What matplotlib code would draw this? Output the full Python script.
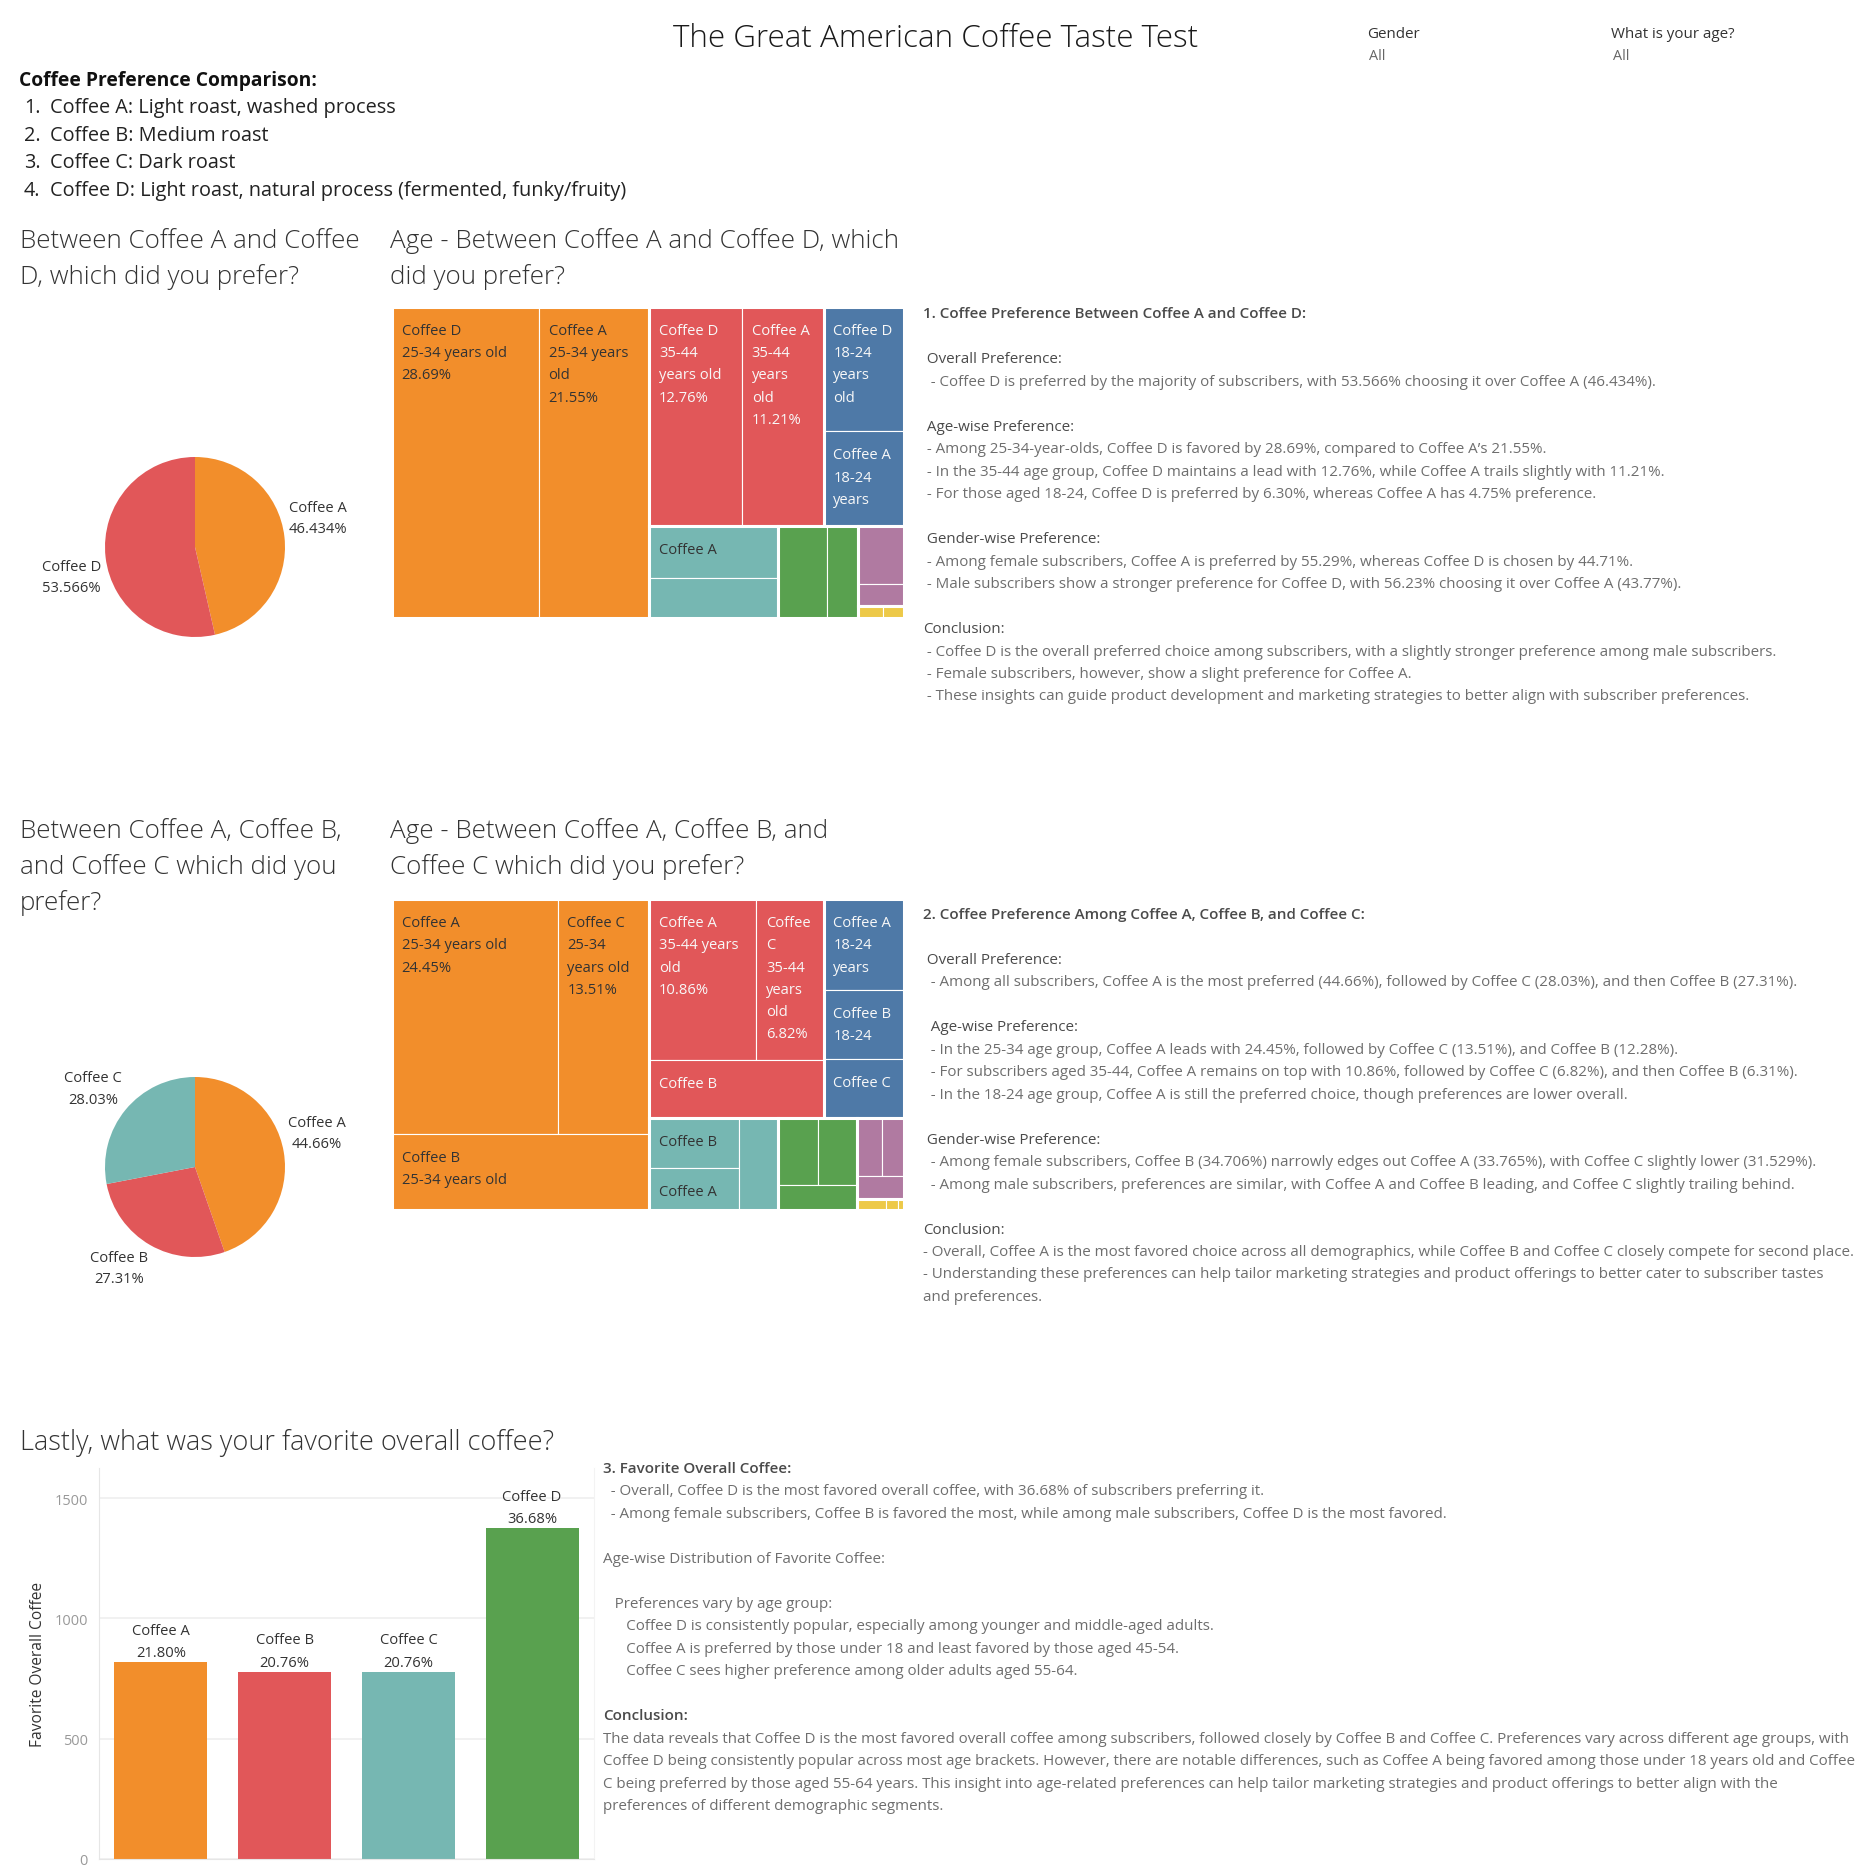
import numpy as np
import matplotlib
matplotlib.use('Agg')
import matplotlib.pyplot as plt
from matplotlib.patches import Rectangle
from matplotlib.font_manager import FontProperties

W, H, DPI = 1874, 1874, 100
FONT = ['Open Sans', 'DejaVu Sans']
TITLE_FONT = ['Open Sans', 'DejaVu Sans']
plt.rcParams['font.family'] = FONT

# ---------------- data ----------------
title = 'The Great American Coffee Taste Test'
coffee_desc = ['Coffee A: Light roast, washed process',
               'Coffee B: Medium roast',
               'Coffee C: Dark roast',
               'Coffee D: Light roast, natural process (fermented, funky/fruity)']

pie1_names = ['Coffee A', 'Coffee D']
pie1_pct = [46.434, 53.566]
pie2_names = ['Coffee A', 'Coffee B', 'Coffee C']
pie2_pct = [44.66, 27.31, 28.03]

# treemap 1: Coffee A vs Coffee D by age group (share of all answers, %)
tm1_coffee = ['Coffee D', 'Coffee A', 'Coffee D', 'Coffee A', 'Coffee D', 'Coffee A',
              'Coffee A', 'Coffee D', 'Coffee D', 'Coffee A', 'Coffee A', 'Coffee D',
              'Coffee A', 'Coffee D']
tm1_age = ['25-34 years old'] * 2 + ['35-44 years old'] * 2 + ['18-24 years old'] * 2 + \
          ['45-54 years old'] * 2 + ['55-64 years old'] * 2 + ['>65 years old'] * 2 + \
          ['<18 years old'] * 2
tm1_pct = [28.69, 21.55, 12.76, 11.21, 6.30, 4.75, 4.20, 3.25, 2.85, 1.75, 1.70, 0.65, 0.19, 0.15]

# treemap 2: Coffee A / B / C by age group
tm2_coffee = ['Coffee A', 'Coffee C', 'Coffee B', 'Coffee A', 'Coffee C', 'Coffee B',
              'Coffee A', 'Coffee B', 'Coffee C', 'Coffee B', 'Coffee A', 'Coffee C',
              'Coffee A', 'Coffee B', 'Coffee C', 'Coffee A', 'Coffee B', 'Coffee C',
              'Coffee A', 'Coffee B', 'Coffee C']
tm2_age = ['25-34 years old'] * 3 + ['35-44 years old'] * 3 + ['18-24 years old'] * 3 + \
          ['45-54 years old'] * 3 + ['55-64 years old'] * 3 + ['>65 years old'] * 3 + \
          ['<18 years old'] * 3
tm2_pct = [24.45, 13.51, 12.28, 10.86, 6.82, 6.31, 4.59, 3.48, 2.98, 2.82, 2.36, 2.27,
           1.68, 1.64, 1.25, 0.89, 0.81, 0.70, 0.185, 0.077, 0.038]

fav_names = ['Coffee A', 'Coffee B', 'Coffee C', 'Coffee D']
fav_count = [817, 778, 778, 1375]
fav_pct = [21.80, 20.76, 20.76, 36.68]

age_colors = {'18-24 years old': '#4E79A7', '25-34 years old': '#F28E2B',
              '35-44 years old': '#E15759', '45-54 years old': '#76B7B2',
              '55-64 years old': '#59A14F', '<18 years old': '#EDC948',
              '>65 years old': '#B07AA1'}
dark_text_ages = ['25-34 years old', '45-54 years old', '55-64 years old', '<18 years old']

# narrative text, (kind, line): h = heading, s = sub heading, t = body, '' = blank
notes1 = [('h', '1. Coffee Preference Between Coffee A and Coffee D:'),
          ('', ''),
          ('s', ' Overall Preference:'),
          ('t', '  - Coffee D is preferred by the majority of subscribers, with 53.566% choosing it over Coffee A (46.434%).'),
          ('', ''),
          ('s', ' Age-wise Preference:'),
          ('t', ' - Among 25-34-year-olds, Coffee D is favored by 28.69%, compared to Coffee A\u2019s 21.55%.'),
          ('t', ' - In the 35-44 age group, Coffee D maintains a lead with 12.76%, while Coffee A trails slightly with 11.21%.'),
          ('t', ' - For those aged 18-24, Coffee D is preferred by 6.30%, whereas Coffee A has 4.75% preference.'),
          ('', ''),
          ('s', ' Gender-wise Preference:'),
          ('t', ' - Among female subscribers, Coffee A is preferred by 55.29%, whereas Coffee D is chosen by 44.71%.'),
          ('t', ' - Male subscribers show a stronger preference for Coffee D, with 56.23% choosing it over Coffee A (43.77%).'),
          ('', ''),
          ('s', 'Conclusion:'),
          ('t', ' - Coffee D is the overall preferred choice among subscribers, with a slightly stronger preference among male subscribers.'),
          ('t', ' - Female subscribers, however, show a slight preference for Coffee A.'),
          ('t', ' - These insights can guide product development and marketing strategies to better align with subscriber preferences.')]

notes2 = [('h', '2. Coffee Preference Among Coffee A, Coffee B, and Coffee C:'),
          ('', ''),
          ('s', ' Overall Preference:'),
          ('t', '  - Among all subscribers, Coffee A is the most preferred (44.66%), followed by Coffee C (28.03%), and then Coffee B (27.31%).'),
          ('', ''),
          ('s', '  Age-wise Preference:'),
          ('t', '  - In the 25-34 age group, Coffee A leads with 24.45%, followed by Coffee C (13.51%), and Coffee B (12.28%).'),
          ('t', '  - For subscribers aged 35-44, Coffee A remains on top with 10.86%, followed by Coffee C (6.82%), and then Coffee B (6.31%).'),
          ('t', '  - In the 18-24 age group, Coffee A is still the preferred choice, though preferences are lower overall.'),
          ('', ''),
          ('s', ' Gender-wise Preference:'),
          ('t', '  - Among female subscribers, Coffee B (34.706%) narrowly edges out Coffee A (33.765%), with Coffee C slightly lower (31.529%).'),
          ('t', '  - Among male subscribers, preferences are similar, with Coffee A and Coffee B leading, and Coffee C slightly trailing behind.'),
          ('', ''),
          ('s', 'Conclusion:'),
          ('t', '- Overall, Coffee A is the most favored choice across all demographics, while Coffee B and Coffee C closely compete for second place.'),
          ('t', '- Understanding these preferences can help tailor marketing strategies and product offerings to better cater to subscriber tastes'),
          ('t', 'and preferences.')]

notes3 = [('h', '3. Favorite Overall Coffee:'),
          ('t', '  - Overall, Coffee D is the most favored overall coffee, with 36.68% of subscribers preferring it.'),
          ('t', '  - Among female subscribers, Coffee B is favored the most, while among male subscribers, Coffee D is the most favored.'),
          ('', ''),
          ('t', 'Age-wise Distribution of Favorite Coffee:'),
          ('', ''),
          ('t', '   Preferences vary by age group:'),
          ('t', '      Coffee D is consistently popular, especially among younger and middle-aged adults.'),
          ('t', '      Coffee A is preferred by those under 18 and least favored by those aged 45-54.'),
          ('t', '      Coffee C sees higher preference among older adults aged 55-64.'),
          ('', ''),
          ('h', 'Conclusion:'),
          ('t', 'The data reveals that Coffee D is the most favored overall coffee among subscribers, followed closely by Coffee B and Coffee C. Preferences vary across different age groups, with'),
          ('t', 'Coffee D being consistently popular across most age brackets. However, there are notable differences, such as Coffee A being favored among those under 18 years old and Coffee'),
          ('t', 'C being preferred by those aged 55-64 years. This insight into age-related preferences can help tailor marketing strategies and product offerings to better align with the'),
          ('t', 'preferences of different demographic segments.')]

# ---------------- helpers ----------------
fig = plt.figure(figsize=(W / DPI, H / DPI), dpi=DPI)
fig.patch.set_facecolor('white')
renderer = fig.canvas.get_renderer()


def px_axes(x0, y0, x1, y1):
    # axes from pixel box, y measured from the top
    return fig.add_axes([x0 / W, 1 - y1 / H, (x1 - x0) / W, (y1 - y0) / H])


def width_px(s, size, family=FONT, weight='normal'):
    prop = FontProperties(family=family, size=size, weight=weight)
    return renderer.get_text_width_height_descent(s, prop, ismath=False)[0]


def fit_size(s, target, family=FONT, weight='normal'):
    # font size that makes s about target pixels wide
    return 10 * target / width_px(s, 10, family, weight)


def line(x, yc, s, size, **kw):
    # place one text line by the vertical centre of its capitals
    base = yc + 0.36 * size * DPI / 72
    return fig.text(x / W, 1 - base / H, s, fontsize=size, va='baseline', **kw)


NOTE_SIZE = fit_size('- Coffee D is preferred by the majority of subscribers, with 53.566% '
                     'choosing it over Coffee A (46.434%).', 728)
LBL_SIZE = fit_size('Coffee D', 59)


def note_block(x, y, lines, pitch=22.47):
    styles = {'h': ('semibold', '#4a4a4a'), 's': ('normal', '#4a4a4a'), 't': ('normal', '#6e6e6e')}
    for i, (kind, s) in enumerate(lines):
        if kind:
            wgt, col = styles[kind]
            line(x, y + i * pitch, s, NOTE_SIZE, fontweight=wgt, color=col)


# ---------------- treemap ----------------
MAX_RATIO = 3.3
PAD_X, PAD_W, FIRST_BASE, PITCH, BOTTOM = 9.7, 20.4, 27.0, 22.3, 13.7


def worst(row, side, scale):
    thick = sum(row) * scale / side
    ratios = []
    for v in row:
        length = v * scale / thick
        ratios.append(max(length / thick, thick / length))
    return max(ratios)


def strip_layout(values, x, y, w, h):
    # squarified style layout: grow a strip while its cells stay near square
    scale = w * h / sum(values)
    out = []
    i = 0
    while i < len(values):
        side = min(w, h)
        row = [values[i]]
        j = i + 1
        while j < len(values):
            cand = row + [values[j]]
            if worst(cand, side, scale) > max(worst(row, side, scale), MAX_RATIO):
                break
            row = cand
            j += 1
        area = sum(row) * scale
        if w <= h:
            th = area / w
            cx = x
            for v in row:
                cw = v * scale / th
                out.append((cx, y, cw, th))
                cx += cw
            y += th
            h -= th
        else:
            th = area / h
            cy = y
            for v in row:
                ch = v * scale / th
                out.append((x, cy, th, ch))
                cy += ch
            x += th
            w -= th
        i = j
    return out


def cell_label(ax, x, y, w, h, fields, color):
    avail = w - PAD_W
    lines = []
    for f in fields:
        cur = ''
        for word in f.split(' '):
            if width_px(word, LBL_SIZE) > avail:
                return
            trial = word if not cur else cur + ' ' + word
            if width_px(trial, LBL_SIZE) <= avail:
                cur = trial
            else:
                lines.append(cur)
                cur = word
        lines.append(cur)
    if h < FIRST_BASE + BOTTOM:
        return
    n = int((h - FIRST_BASE - BOTTOM) // PITCH) + 1
    for k, s in enumerate(lines[:n]):
        ax.text(x + PAD_X, y + FIRST_BASE + k * PITCH, s, color=color,
                fontsize=LBL_SIZE, va='baseline', ha='left')


def draw_treemap(box, coffees, ages, pcts):
    x0, y0, x1, y1 = box
    w, h = x1 - x0, y1 - y0
    ax = px_axes(x0, y0, x1, y1)
    ax.set_xlim(0, w)
    ax.set_ylim(h, 0)
    ax.axis('off')
    groups = {}
    for c, a, p in zip(coffees, ages, pcts):
        groups.setdefault(a, []).append((p, c))
    order = sorted(groups, key=lambda a: -sum(p for p, _ in groups[a]))
    totals = [sum(p for p, _ in groups[a]) for a in order]
    for a, (gx, gy, gw, gh) in zip(order, strip_layout(totals, 0, 0, w, h)):
        leaves = sorted(groups[a], reverse=True)
        cells = strip_layout([p for p, _ in leaves], gx, gy, gw, gh)
        tc = '#333333' if a in dark_text_ages else '#f8f8f8'
        for (p, c), (x, y, cw, ch) in zip(leaves, cells):
            ax.add_patch(Rectangle((x, y), cw, ch, facecolor=age_colors[a],
                                   edgecolor='white', lw=0.8))
            cell_label(ax, x, y, cw, ch, [c, a, '%.2f%%' % p], tc)
        ax.add_patch(Rectangle((gx, gy), gw, gh, fill=False, edgecolor='white', lw=2.2))


# ---------------- pie ----------------
def draw_pie(cx, cy, r, names, pcts, colors, fmt):
    ax = px_axes(cx - r, cy - r, cx + r, cy + r)
    wedges, _ = ax.pie(pcts, colors=colors, startangle=90, counterclock=False,
                       radius=1, wedgeprops=dict(linewidth=0))
    ax.set_xlim(-1, 1)
    ax.set_ylim(-1, 1)
    k = 72 / DPI  # pixels -> points
    for wdg, n, p in zip(wedges, names, pcts):
        ang = np.deg2rad((wdg.theta1 + wdg.theta2) / 2)
        lx, ly = 1.05 * np.cos(ang), 1.05 * np.sin(ang)
        s2 = fmt % p + '%'
        bw = max(width_px(n, LBL_SIZE), width_px(s2, LBL_SIZE))
        xc = bw / 2 if lx > 0 else -bw / 2
        if ly > 0:
            b1, b2 = 4 + 21.5, 4
        else:
            b1, b2 = -12, -12 - 21.5
        for s, b in ((n, b1), (s2, b2)):
            ax.annotate(s, (lx, ly), xytext=(xc * k, b * k), textcoords='offset points',
                        ha='center', va='baseline', fontsize=LBL_SIZE, color='#333333',
                        annotation_clip=False)


# ---------------- header ----------------
title_size = fit_size(title, 523, TITLE_FONT, 'light')
line(936, 36, title, title_size, ha='center', fontweight='light', color='#1a1a1a',
     family=TITLE_FONT)
filt_size = fit_size('What is your age?', 124)
line(1367, 33, 'Gender', filt_size, color='#333333')
line(1369, 55, 'All', filt_size * 0.95, color='#666666')
line(1611, 33, 'What is your age?', filt_size, color='#333333')
line(1613, 55, 'All', filt_size * 0.95, color='#666666')

head_size = fit_size('Coffee Preference Comparison:', 298, weight='bold')
line(19, 79, 'Coffee Preference Comparison:', head_size, fontweight='bold', color='#111111')
item_size = fit_size(coffee_desc[3], 575)
for i, s in enumerate(coffee_desc):
    line(24, 106.3 + 27.5 * i, '%d.' % (i + 1), item_size, color='#222222')
    line(50, 106.3 + 27.5 * i, s, item_size, color='#222222')

# section titles
sec_size = np.mean([fit_size('Age - Between Coffee A and Coffee D, which', 507, TITLE_FONT, 'light'),
                    fit_size('Between Coffee A and Coffee', 339, TITLE_FONT, 'light')])
last_size = fit_size('Lastly, what was your favorite overall coffee?', 533, TITLE_FONT, 'light')
sec = dict(fontweight='light', color='#333333', family=TITLE_FONT)
line(20, 239, 'Between Coffee A and Coffee', sec_size, **sec)
line(20, 275, 'D, which did you prefer?', sec_size, **sec)
line(390, 239, 'Age - Between Coffee A and Coffee D, which', sec_size, **sec)
line(390, 275, 'did you prefer?', sec_size, **sec)
line(20, 829, 'Between Coffee A, Coffee B,', sec_size, **sec)
line(20, 865, 'and Coffee C which did you', sec_size, **sec)
line(20, 901, 'prefer?', sec_size, **sec)
line(390, 829, 'Age - Between Coffee A, Coffee B, and', sec_size, **sec)
line(390, 865, 'Coffee C which did you prefer?', sec_size, **sec)
line(20, 1440, 'Lastly, what was your favorite overall coffee?', last_size, **sec)

# ---------------- charts ----------------
draw_pie(195, 548, 90, pie1_names, pie1_pct, ['#F28E2B', '#E15759'], '%.3f')
draw_pie(195, 1168, 90, pie2_names, pie2_pct, ['#F28E2B', '#E15759', '#76B7B2'], '%.2f')

draw_treemap((392, 307.7, 904, 618.7), tm1_coffee, tm1_age, tm1_pct)
draw_treemap((392, 900, 904, 1210.7), tm2_coffee, tm2_age, tm2_pct)

# bar chart of favourite coffee
axb = px_axes(99, 1469, 594, 1860)
xpos = np.arange(len(fav_names))
axb.bar(xpos, fav_count, width=0.75, color=['#F28E2B', '#E15759', '#76B7B2', '#59A14F'], zorder=2)
axb.set_xlim(-0.5, 3.5)
axb.set_ylim(0, 1625)
axb.set_yticks([0, 500, 1000, 1500])
axb.set_xticks([])
axb.grid(axis='y', color='#efefef', lw=1.2, zorder=0)
axb.tick_params(axis='y', length=0, pad=8, labelsize=fit_size('1500', 33.4),
                labelcolor='#999999')
axb.spines['top'].set_visible(False)
axb.spines['left'].set_color('#e6e6e6')
axb.spines['right'].set_color('#f3f3f3')
axb.spines['bottom'].set_color('#e6e6e6')
for xi, c, n, p in zip(xpos, fav_count, fav_names, fav_pct):
    axb.annotate('%.2f%%' % p, (xi, c), xytext=(0, 4.3), textcoords='offset points',
                 ha='center', va='baseline', fontsize=LBL_SIZE, color='#333333')
    axb.annotate(n, (xi, c), xytext=(0, 4.3 + 16.3), textcoords='offset points',
                 ha='center', va='baseline', fontsize=LBL_SIZE, color='#333333')
axb.set_ylabel('Favorite Overall Coffee', fontsize=fit_size('Favorite Overall Coffee', 165),
               color='#333333')
axb.yaxis.set_label_coords(-0.107, 0.5)

# ---------------- narrative ----------------
note_block(923, 313, notes1)
note_block(923, 913.5, notes2)
note_block(603, 1467.5, notes3)

fig.savefig('out.png', dpi=DPI)
